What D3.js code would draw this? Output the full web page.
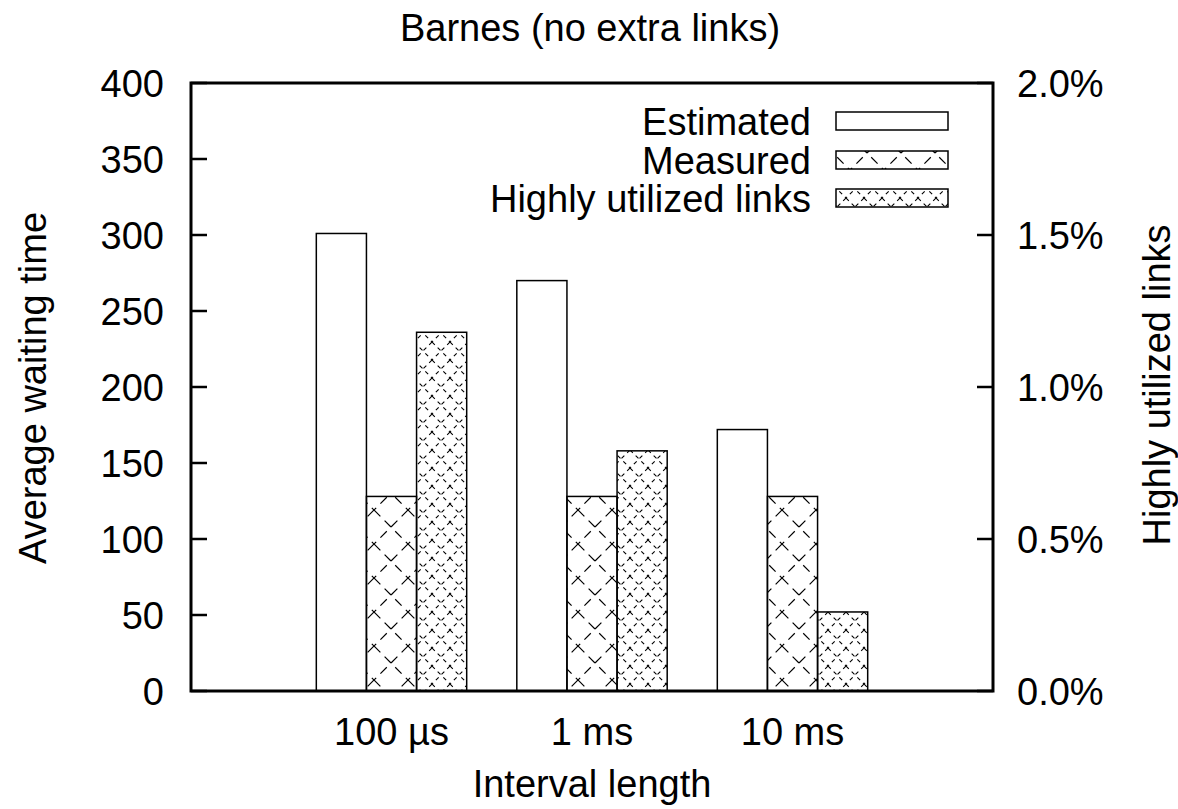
<!DOCTYPE html>
<html>
<head>
<meta charset="utf-8">
<script src="https://cdn.jsdelivr.net/npm/d3@7"></script>
<style>
  body { margin: 0; background: #fff; }
  text { font-family: "Liberation Sans", Arial, sans-serif; fill: #000; }
</style>
</head>
<body>
<div id="chart"></div>
<script>
// data
var categories = ["100 \u00b5s", "1 ms", "10 ms"];
var estimated = [301, 270, 172];
var measured = [128, 128, 128];
var highlyUtilized = [1.18, 0.79, 0.26];   // percent, right axis
var leftTicks = [0, 50, 100, 150, 200, 250, 300, 350, 400];
var rightTicks = [0, 0.5, 1.0, 1.5, 2.0];
var seriesNames = ["Estimated", "Measured", "Highly utilized links"];

var W = 1178, H = 809;
// plot frame (note: "top" is reserved on window, so use pX names)
var pLeft = 191, pRight = 993, pTop = 83, pBottom = 691;
var fs = 38;

var svg = d3.select("#chart")
  .append("svg")
    .attr("width", W)
    .attr("height", H);

var defs = svg.append("defs");

// coarse dashed lattice (Measured)
var p1 = defs.append("pattern")
  .attr("id", "pat-measured")
  .attr("patternUnits", "userSpaceOnUse")
  .attr("width", 34).attr("height", 34);
p1.append("path")
  .attr("d", "M0,0 L34,34 M34,0 L0,34")
  .attr("stroke", "#000")
  .attr("stroke-width", 1.2)
  .attr("stroke-dasharray", "9,6")
  .attr("fill", "none");

// fine dashed lattice (Highly utilized)
var p2 = defs.append("pattern")
  .attr("id", "pat-highly")
  .attr("patternUnits", "userSpaceOnUse")
  .attr("width", 18).attr("height", 18);
p2.append("path")
  .attr("d", "M0,0 L18,18 M18,0 L0,18")
  .attr("stroke", "#000")
  .attr("stroke-width", 1.1)
  .attr("stroke-dasharray", "4,4")
  .attr("fill", "none");

var fills = ["#fff", "url(#pat-measured)", "url(#pat-highly)"];

var x = d3.scaleLinear().domain([-1, 3]).range([pLeft, pRight]);
var y = d3.scaleLinear().domain([0, 400]).range([pBottom, pTop]);
var y2 = d3.scaleLinear().domain([0, 2]).range([pBottom, pTop]);

var barW = 0.25;

function drawBars(vals, scale, idx) {
  svg.append("g").selectAll("rect")
    .data(vals)
    .enter().append("rect")
      .attr("x", function(d, i) { return x(i - 0.375 + idx * barW); })
      .attr("y", function(d) { return scale(d); })
      .attr("width", x(barW) - x(0))
      .attr("height", function(d) { return pBottom - scale(d); })
      .attr("fill", fills[idx])
      .attr("stroke", "#000")
      .attr("stroke-width", 1.5);
}
drawBars(estimated, y, 0);
drawBars(measured, y, 1);
drawBars(highlyUtilized, y2, 2);

// left axis ticks (inward)
svg.append("g").selectAll("line")
  .data(leftTicks)
  .enter().append("line")
    .attr("x1", pLeft).attr("x2", pLeft + 16)
    .attr("y1", function(d) { return y(d); })
    .attr("y2", function(d) { return y(d); })
    .attr("stroke", "#000").attr("stroke-width", 2.5);
svg.append("g").selectAll("text")
  .data(leftTicks)
  .enter().append("text")
    .attr("x", 164)
    .attr("y", function(d) { return y(d); })
    .attr("dy", "0.36em")
    .attr("text-anchor", "end")
    .attr("font-size", fs)
    .text(function(d) { return d; });

// right axis ticks (inward)
svg.append("g").selectAll("line")
  .data(rightTicks)
  .enter().append("line")
    .attr("x1", pRight - 16).attr("x2", pRight)
    .attr("y1", function(d) { return y2(d); })
    .attr("y2", function(d) { return y2(d); })
    .attr("stroke", "#000").attr("stroke-width", 2.5);
svg.append("g").selectAll("text")
  .data(rightTicks)
  .enter().append("text")
    .attr("x", 1017)
    .attr("y", function(d) { return y2(d); })
    .attr("dy", "0.36em")
    .attr("text-anchor", "start")
    .attr("font-size", fs)
    .text(function(d) { return d.toFixed(1) + "%"; });

// frame
svg.append("rect")
  .attr("x", pLeft).attr("y", pTop)
  .attr("width", pRight - pLeft).attr("height", pBottom - pTop)
  .attr("fill", "none")
  .attr("stroke", "#000")
  .attr("stroke-width", 3);

// x category labels
svg.append("g").selectAll("text")
  .data(categories)
  .enter().append("text")
    .attr("x", function(d, i) { return x(i); })
    .attr("y", 745)
    .attr("text-anchor", "middle")
    .attr("font-size", fs)
    .text(function(d) { return d; });

// titles
svg.append("text")
  .attr("x", 590).attr("y", 41)
  .attr("text-anchor", "middle")
  .attr("font-size", fs)
  .text("Barnes (no extra links)");

svg.append("text")
  .attr("x", 592).attr("y", 797)
  .attr("text-anchor", "middle")
  .attr("font-size", fs)
  .text("Interval length");

svg.append("text")
  .attr("transform", "translate(46,388) rotate(-90)")
  .attr("text-anchor", "middle")
  .attr("font-size", fs)
  .text("Average waiting time");

svg.append("text")
  .attr("transform", "translate(1170,385) rotate(-90)")
  .attr("text-anchor", "middle")
  .attr("font-size", fs)
  .text("Highly utilized links");

// legend
var legY = [121, 160, 198];
var leg = svg.append("g").selectAll("g")
  .data(seriesNames)
  .enter().append("g");
leg.append("text")
  .attr("x", 811)
  .attr("y", function(d, i) { return legY[i]; })
  .attr("dy", "0.36em")
  .attr("text-anchor", "end")
  .attr("font-size", fs)
  .text(function(d) { return d; });
leg.append("rect")
  .attr("x", 836)
  .attr("y", function(d, i) { return legY[i] - 9; })
  .attr("width", 112)
  .attr("height", 18)
  .attr("fill", function(d, i) { return fills[i]; })
  .attr("stroke", "#000")
  .attr("stroke-width", 1.5);
</script>
</body>
</html>
